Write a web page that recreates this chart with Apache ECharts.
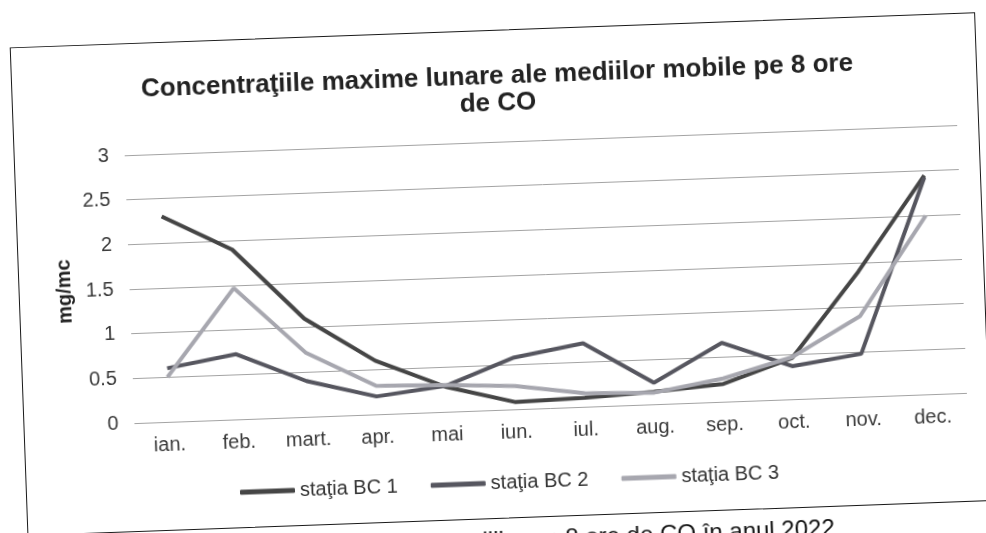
<!DOCTYPE html>
<html><head><meta charset="utf-8">
<script src="https://cdn.jsdelivr.net/npm/echarts@6/dist/echarts.min.js"></script>
<style>
html,body{margin:0;padding:0;background:#fff;overflow:hidden;width:986px;height:533px}
#page{position:absolute;left:0;top:0;width:986px;height:533px;transform:rotate(-2.08deg);transform-origin:493px 267px}
#frame{position:absolute;left:18px;top:30px;width:966px;height:489px;border:1.5px solid #1a1a1a;box-sizing:border-box}
#chart{position:absolute;left:0;top:0;width:986px;height:533px}
#caption{position:absolute;right:161px;top:526px;font:24px "Liberation Sans",Arial,sans-serif;color:#111;white-space:nowrap}
</style></head>
<body>
<div id="page">
  <div id="frame"></div>
  <div id="chart"></div>
  <div id="caption">mediilor pe 8 ore de CO în anul 2022</div>
</div>
<script>
const months = ['ian.','feb.','mart.','apr.','mai','iun.','iul.','aug.','sep.','oct.','nov.','dec.'];
const seriesNames = ['staţia BC 1','staţia BC 2','staţia BC 3'];
const bc1 = [2.3, 1.9, 1.1, 0.6, 0.28, 0.08, 0.1, 0.14, 0.2, 0.46, 1.4, 2.45];
const bc2 = [0.6, 0.73, 0.4, 0.2, 0.29, 0.58, 0.71, 0.24, 0.66, 0.37, 0.48, 2.43];
const bc3 = [0.5, 1.47, 0.72, 0.32, 0.3, 0.26, 0.15, 0.13, 0.26, 0.47, 0.9, 2.0];
const yTicks = {min: 0, max: 3, interval: 0.5};

const FONT = '"Liberation Sans", Arial, sans-serif';
const colors = ['#454545', '#56565f', '#a7a7af'];
const chart = echarts.init(document.getElementById('chart'), null, {renderer: 'canvas'});
chart.setOption({
  animation: false,
  title: {
    text: 'Concentraţiile maxime lunare ale mediilor mobile pe 8 ore\nde CO',
    left: 504, top: 63, padding: 0, textAlign: 'center',
    textStyle: {fontSize: 26, fontWeight: 'bold', lineHeight: 27, color: '#222', fontFamily: FONT}
  },
  grid: {left: 129, right: 24, top: 142, bottom: 123},
  legend: {
    data: seriesNames, left: 232, top: 473, padding: 0,
    icon: 'roundRect', itemWidth: 55, itemHeight: 5, itemGap: 33,
    textStyle: {fontSize: 20, color: '#333', fontFamily: FONT}
  },
  xAxis: {
    type: 'category', data: months, boundaryGap: true,
    axisLine: {show: false}, axisTick: {show: false},
    axisLabel: {fontSize: 20, color: '#3a3a3a', margin: 13, fontFamily: FONT}
  },
  yAxis: {
    type: 'value', min: yTicks.min, max: yTicks.max, interval: yTicks.interval,
    name: 'mg/mc', nameLocation: 'middle', nameGap: 50,
    nameTextStyle: {fontSize: 20, fontWeight: 'bold', color: '#222', fontFamily: FONT},
    axisLine: {show: false}, axisTick: {show: false},
    axisLabel: {fontSize: 20, color: '#3a3a3a', margin: 16, fontFamily: FONT},
    splitLine: {lineStyle: {color: '#a3a3a3', width: 1}}
  },
  series: [bc1, bc2, bc3].map((d, i) => ({
    name: seriesNames[i], type: 'line', data: d, symbol: 'none',
    lineStyle: {width: 4, color: colors[i]}, itemStyle: {color: colors[i]}
  }))
});
</script>
</body></html>
